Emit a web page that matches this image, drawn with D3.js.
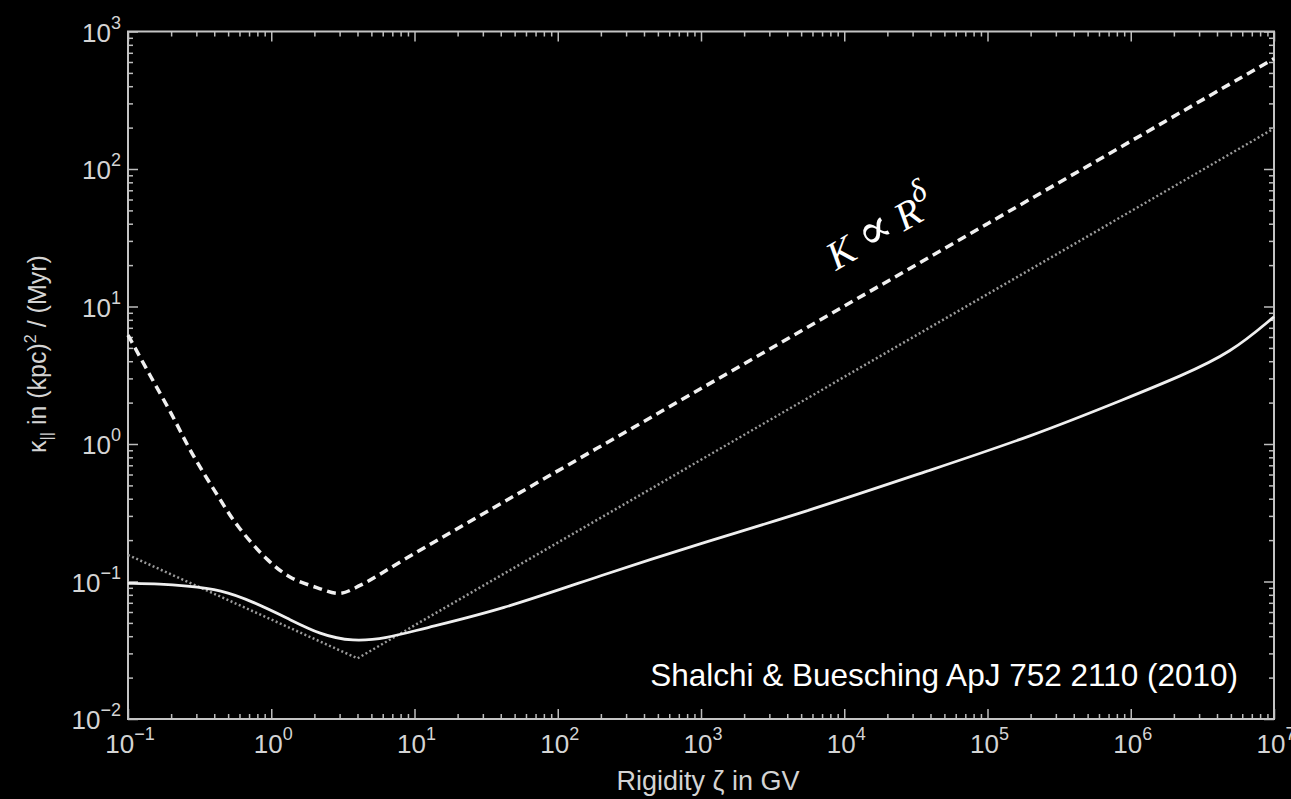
<!DOCTYPE html>
<html>
<head>
<meta charset="utf-8">
<script src="https://cdn.jsdelivr.net/npm/d3@7"></script>
<style>
  html, body { margin: 0; padding: 0; background: #000; }
  svg { display: block; }
  .axis path { display: none; }
  .axis line { stroke: #bdbdbd; stroke-width: 1.5; }
  .tick-label { fill: #d4d4d4; font-family: "Liberation Sans", Arial, sans-serif; }
</style>
</head>
<body>
<svg id="chart" width="1291" height="799"></svg>
<script>
// rigidity (GV) and diffusion coefficient readings, one pair of arrays per curve
var zetaSolid  = [0.1, 0.17, 0.25, 0.45, 0.75, 1.3, 2.2, 3.7, 6.4, 11, 40, 200, 1000, 5000, 4e4, 2e5, 1e6, 2.2e6, 5e6, 1e7];
var kappaSolid = [0.097, 0.096, 0.093, 0.087, 0.071, 0.054, 0.041, 0.0365, 0.0386, 0.045, 0.062, 0.111, 0.19, 0.313, 0.647, 1.13, 2.21, 3.1, 4.6, 8.43];

var zetaDashed  = [0.1, 0.14, 0.2, 0.28, 0.4, 0.59, 0.95, 1.35, 2.1, 3.0, 4.2, 10, 1e3, 1e5, 1e7];
var kappaDashed = [6.2, 3.27, 1.67, 0.855, 0.462, 0.25, 0.143, 0.108, 0.09, 0.082, 0.094, 0.16, 2.53, 40, 635];

var zetaDotted  = [0.1, 4, 1e7];
var kappaDotted = [0.156, 0.0276, 197];

// tick labels (powers of ten)
var xExponents = [-1, 0, 1, 2, 3, 4, 5, 6, 7];
var yExponents = [-2, -1, 0, 1, 2, 3];

var margin = { top: 31.5, right: 17, bottom: 80, left: 128 },
    W = 1291, H = 799,
    width = W - margin.left - margin.right,
    height = H - margin.top - margin.bottom;

var svg = d3.select('#chart');
svg.append('rect').attr('width', W).attr('height', H).attr('fill', '#000');

var g = svg.append('g')
    .attr('transform', 'translate(' + margin.left + ',' + margin.top + ')');

var x = d3.scaleLog().domain([1e-1, 1e7]).range([0, width]);
var y = d3.scaleLog().domain([1e-2, 1e3]).range([height, 0]);

var isMajor = function(v) {
    var l = Math.log10(v);
    return Math.abs(l - Math.round(l)) < 1e-9;
};
var xMinor = x.ticks().filter(function(v) { return !isMajor(v); }),
    yMinor = y.ticks().filter(function(v) { return !isMajor(v); }),
    xMajor = xExponents.map(function(e) { return Math.pow(10, e); }),
    yMajor = yExponents.map(function(e) { return Math.pow(10, e); });

// ticks point inwards on all four sides
function drawTicks(axisFn, scale, values, size, transform) {
    g.append('g')
        .attr('class', 'axis')
        .attr('transform', transform)
        .call(axisFn(scale).tickValues(values).tickSizeInner(size).tickSizeOuter(0).tickFormat(''));
}
drawTicks(d3.axisBottom, x, xMinor, -5, 'translate(0,' + height + ')');
drawTicks(d3.axisBottom, x, xMajor, -10, 'translate(0,' + height + ')');
drawTicks(d3.axisTop, x, xMinor, -5, 'translate(0,0)');
drawTicks(d3.axisTop, x, xMajor, -10, 'translate(0,0)');
drawTicks(d3.axisLeft, y, yMinor, -5, 'translate(0,0)');
drawTicks(d3.axisLeft, y, yMajor, -10, 'translate(0,0)');
drawTicks(d3.axisRight, y, yMinor, -5, 'translate(' + width + ',0)');
drawTicks(d3.axisRight, y, yMajor, -10, 'translate(' + width + ',0)');

// frame
g.append('rect')
    .attr('width', width).attr('height', height)
    .attr('fill', 'none').attr('stroke', '#c4c4c4').attr('stroke-width', 2);

function expText(sel, e) {
    sel.append('tspan').text('10');
    sel.append('tspan')
        .attr('dy', -13)
        .attr('font-size', 18)
        .text(String(e).replace('-', '\u2212'));
}

// x tick labels
g.selectAll('text.xl')
    .data(xExponents)
    .enter().append('text')
    .attr('class', 'tick-label xl')
    .attr('x', function(e) { return x(Math.pow(10, e)) + 2; })
    .attr('y', height + 34)
    .attr('text-anchor', 'middle')
    .attr('font-size', 26)
    .each(function(e) { expText(d3.select(this), e); });

// y tick labels
g.selectAll('text.yl')
    .data(yExponents)
    .enter().append('text')
    .attr('class', 'tick-label yl')
    .attr('x', -7)
    .attr('y', function(e) { return y(Math.pow(10, e)) + 10; })
    .attr('text-anchor', 'end')
    .attr('font-size', 26)
    .each(function(e) { expText(d3.select(this), e); });

// axis titles
svg.append('text')
    .attr('class', 'tick-label')
    .attr('x', 708).attr('y', 790)
    .attr('text-anchor', 'middle')
    .attr('font-size', 27)
    .text('Rigidity \u03B6 in GV');

var yTitle = svg.append('text')
    .attr('class', 'tick-label')
    .attr('transform', 'translate(46,354) rotate(-90)')
    .attr('text-anchor', 'middle')
    .attr('font-size', 25);
yTitle.append('tspan').text('\u03BA');
yTitle.append('tspan').attr('dy', 6).attr('font-size', 16).text('||');
yTitle.append('tspan').attr('dy', -6).text(' in (kpc)');
yTitle.append('tspan').attr('dy', -10).attr('font-size', 16).text('2');
yTitle.append('tspan').attr('dy', 10).text(' / (Myr)');

// curves
function series(xs, ys) {
    return xs.map(function(v, i) { return [v, ys[i]]; });
}
var line = d3.line()
    .x(function(d) { return x(d[0]); })
    .y(function(d) { return y(d[1]); });

var plot = g.append('g');

plot.append('path')
    .datum(series(zetaDotted, kappaDotted))
    .attr('d', line.curve(d3.curveLinear))
    .attr('fill', 'none')
    .attr('stroke', '#9a9a9a')
    .attr('stroke-width', 2.5)
    .attr('stroke-dasharray', '2,2.5');

plot.append('path')
    .datum(series(zetaDashed, kappaDashed))
    .attr('d', line.curve(d3.curveCatmullRom.alpha(0.5)))
    .attr('fill', 'none')
    .attr('stroke', '#f0f0f0')
    .attr('stroke-width', 3.5)
    .attr('stroke-dasharray', '9,5.5');

plot.append('path')
    .datum(series(zetaSolid, kappaSolid))
    .attr('d', line.curve(d3.curveBasis))
    .attr('fill', 'none')
    .attr('stroke', '#efefef')
    .attr('stroke-width', 2.8);

// annotations
svg.append('text')
    .attr('transform', 'translate(836,271) rotate(-30)')
    .attr('fill', '#fff')
    .attr('font-family', '"Liberation Serif", "DejaVu Serif", serif')
    .attr('font-style', 'italic')
    .attr('font-size', 40)
    .call(function(t) {
        t.append('tspan').text('K');
        t.append('tspan').attr('dx', 10).attr('font-size', 50).text('\u221D');
        t.append('tspan').attr('dx', 8).text('R');
        t.append('tspan').attr('dy', -18).attr('font-size', 32).text('\u03B4');
    });

svg.append('text')
    .attr('x', 1238).attr('y', 686)
    .attr('text-anchor', 'end')
    .attr('fill', '#fff')
    .attr('font-family', '"Liberation Sans", Arial, sans-serif')
    .attr('font-size', 31.5)
    .text('Shalchi & Buesching ApJ 752 2110 (2010)');
</script>
</body>
</html>
